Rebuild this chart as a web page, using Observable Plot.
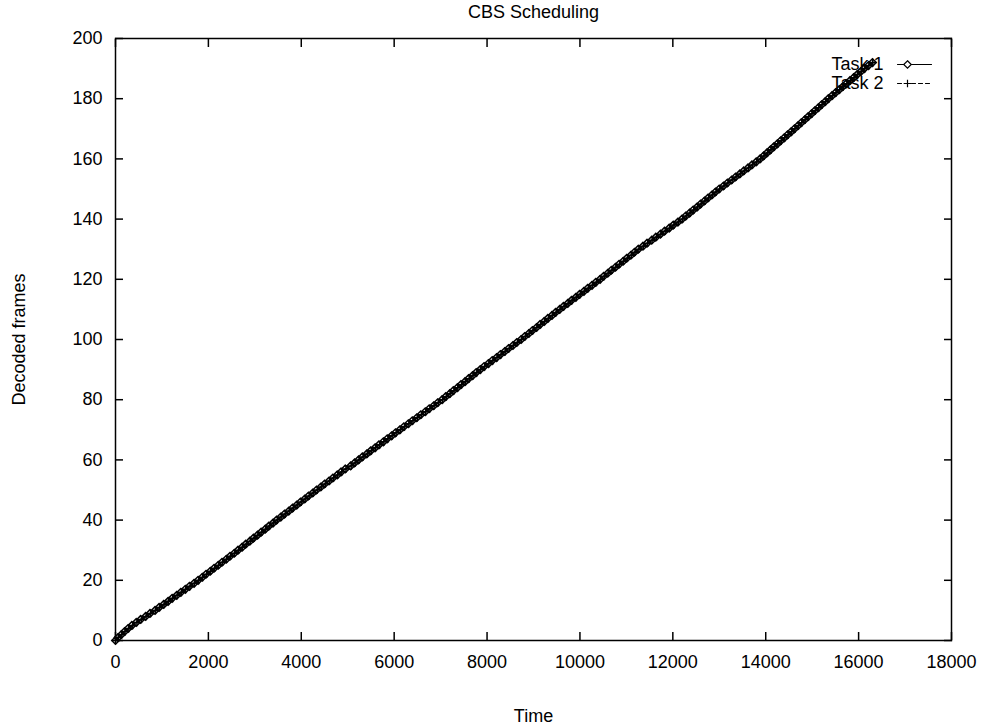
<!DOCTYPE html>
<html>
<head>
<meta charset="utf-8">
<script src="https://cdn.jsdelivr.net/npm/d3@7"></script>
<script src="https://cdn.jsdelivr.net/npm/@observablehq/plot@0.6"></script>
<style>
  body { margin: 0; background: #fff; }
  #chart svg { display: block; font-family: "Liberation Sans", Arial, sans-serif; }
</style>
</head>
<body>
<div id="chart"></div>
<script>
// Time at which each frame finished decoding (index = decoded frame count)
const task1Time = [
  0, 55, 128, 196, 270, 352, 447, 541, 648, 742,
  851, 938, 1037, 1133, 1219, 1318, 1406, 1503, 1592, 1691,
  1778, 1869, 1949, 2041, 2122, 2213, 2293, 2386, 2465, 2558,
  2638, 2727, 2803, 2893, 2969, 3058, 3135, 3224, 3301, 3391,
  3468, 3559, 3639, 3731, 3812, 3903, 3983, 4075, 4155, 4247,
  4328, 4421, 4502, 4597, 4680, 4775, 4857, 4948, 5063, 5147,
  5233, 5315, 5411, 5494, 5588, 5672, 5767, 5850, 5945, 6028,
  6122, 6208, 6305, 6390, 6487, 6572, 6669, 6754, 6851, 6936,
  7032, 7109, 7197, 7273, 7361, 7437, 7525, 7601, 7689, 7765,
  7853, 7935, 8029, 8111, 8205, 8287, 8381, 8463, 8557, 8639,
  8733, 8810, 8899, 8976, 9065, 9142, 9231, 9308, 9397, 9474,
  9563, 9644, 9737, 9818, 9911, 9992, 10085, 10166, 10259, 10340,
  10433, 10510, 10599, 10676, 10765, 10842, 10931, 11008, 11097, 11174,
  11257, 11357, 11445, 11545, 11633, 11733, 11821, 11921, 12009, 12109,
  12197, 12277, 12361, 12437, 12521, 12597, 12681, 12757, 12841, 12917,
  12998, 13090, 13174, 13266, 13350, 13442, 13526, 13618, 13702, 13794,
  13878, 13954, 14026, 14102, 14174, 14250, 14322, 14398, 14470, 14546,
  14618, 14694, 14764, 14840, 14910, 14986, 15056, 15132, 15202, 15278,
  15348, 15427, 15503, 15582, 15658, 15737, 15813, 15892, 15968, 16047,
  16123, 16212, 16298
];

const task2Time = [
  0, 62, 139, 205, 289, 371, 462, 558, 659, 757,
  860, 951, 1046, 1141, 1232, 1327, 1419, 1511, 1606, 1699,
  1792, 1877, 1963, 2048, 2136, 2220, 2307, 2394, 2478, 2566,
  2651, 2734, 2818, 2901, 2985, 3066, 3150, 3232, 3316, 3399,
  3483, 3567, 3654, 3740, 3827, 3912, 3998, 4084, 4170, 4256,
  4343, 4430, 4518, 4607, 4695, 4785, 4872, 4962, 5074, 5160,
  5244, 5330, 5421, 5509, 5598, 5687, 5778, 5865, 5956, 6042,
  6134, 6222, 6316, 6404, 6497, 6587, 6679, 6769, 6860, 6951,
  7043, 7124, 7206, 7289, 7370, 7453, 7534, 7617, 7698, 7781,
  7862, 7950, 8039, 8126, 8215, 8302, 8390, 8478, 8566, 8654,
  8742, 8825, 8908, 8991, 9074, 9157, 9241, 9323, 9406, 9489,
  9572, 9659, 9747, 9833, 9921, 10007, 10094, 10181, 10268, 10355,
  10442, 10524, 10608, 10690, 10774, 10856, 10940, 11022, 11106, 11188,
  11270, 11366, 11459, 11554, 11647, 11742, 11835, 11930, 12023, 12117,
  12210, 12290, 12371, 12450, 12531, 12610, 12691, 12770, 12851, 12930,
  13010, 13101, 13186, 13277, 13362, 13453, 13538, 13629, 13714, 13805,
  13889, 13965, 14038, 14113, 14186, 14261, 14334, 14409, 14482, 14557,
  14630, 14704, 14776, 14850, 14922, 14996, 15068, 15142, 15214, 15288,
  15360, 15438, 15514, 15593, 15669, 15748, 15824, 15903, 15979, 16058,
  16134, 16221, 16305
];

const seriesNames = ["Task 1", "Task 2"];
const xTicks = [0, 2000, 4000, 6000, 8000, 10000, 12000, 14000, 16000, 18000];
const yTicks = [0, 20, 40, 60, 80, 100, 120, 140, 160, 180, 200];

const task1 = task1Time.map((t, i) => ({time: t, frames: i}));
const task2 = task2Time.map((t, i) => ({time: t, frames: i}));

const ink = "#000";
const dash = "4,3";
const fs = 18;
const plain = (d) => String(d);

const chart = Plot.plot({
  width: 983,
  height: 728,
  marginLeft: 115,
  marginRight: 32,
  marginTop: 38,
  marginBottom: 88,
  style: {fontFamily: "'Liberation Sans', Arial, sans-serif", fontSize: fs + "px", color: ink, background: "#fff"},
  x: {domain: [0, 18000]},
  y: {domain: [0, 200]},
  marks: [
    // mirrored inward ticks on all four sides
    Plot.axisX(xTicks, {anchor: "bottom", tickSize: -8, text: null, label: null, strokeWidth: 1.5}),
    Plot.axisX(xTicks, {anchor: "top", tickSize: -8, text: null, label: null, strokeWidth: 1.5}),
    Plot.axisY(yTicks, {anchor: "left", tickSize: -8, text: null, label: null, strokeWidth: 1.5}),
    Plot.axisY(yTicks, {anchor: "right", tickSize: -8, text: null, label: null, strokeWidth: 1.5}),
    // tick labels
    Plot.axisX(xTicks, {anchor: "bottom", tickSize: 0, tickPadding: 15, label: null, fontSize: fs, tickFormat: plain}),
    Plot.axisY(yTicks, {anchor: "left", tickSize: 0, tickPadding: 13, label: null, fontSize: fs, tickFormat: plain}),
    Plot.frame({stroke: ink, strokeWidth: 1.5}),

    // series
    Plot.line(task1, {x: "time", y: "frames", stroke: ink, strokeWidth: 1.5}),
    Plot.dot(task1, {x: "time", y: "frames", symbol: "diamond2", r: 3.4, stroke: ink, strokeWidth: 1.5, fill: "none"}),
    Plot.line(task2, {x: "time", y: "frames", stroke: ink, strokeWidth: 1.5, strokeDasharray: dash}),
    Plot.dot(task2, {x: "time", y: "frames", symbol: "plus", r: 2.6, stroke: ink, strokeWidth: 1.5}),

    // legend (top right, inside the frame)
    Plot.text([seriesNames[0]], {frameAnchor: "top-right", dx: -68, dy: 26, textAnchor: "end", lineAnchor: "middle", fontSize: fs}),
    Plot.text([seriesNames[1]], {frameAnchor: "top-right", dx: -68, dy: 45, textAnchor: "end", lineAnchor: "middle", fontSize: fs}),
    Plot.vector([0], {frameAnchor: "top-right", dx: -54, dy: 26, rotate: 90, length: 34, anchor: "start", r: 0, stroke: ink, strokeWidth: 1.2}),
    Plot.vector([0], {frameAnchor: "top-right", dx: -54, dy: 45, rotate: 90, length: 34, anchor: "start", r: 0, stroke: ink, strokeWidth: 1.2, strokeDasharray: dash}),
    Plot.dot([0], {frameAnchor: "top-right", dx: -44, dy: 26, symbol: "diamond2", r: 3.4, stroke: ink, strokeWidth: 1.2, fill: "#fff"}),
    Plot.dot([0], {frameAnchor: "top-right", dx: -44, dy: 45, symbol: "plus", r: 2.6, stroke: ink, strokeWidth: 1.2}),

    // title and axis titles
    Plot.text(["CBS Scheduling"], {frameAnchor: "top", dy: -26, lineAnchor: "middle", fontSize: fs}),
    Plot.text(["Time"], {frameAnchor: "bottom", dy: 76, lineAnchor: "middle", fontSize: fs}),
    Plot.text(["Decoded frames"], {frameAnchor: "left", dx: -96, rotate: -90, textAnchor: "middle", lineAnchor: "middle", fontSize: fs})
  ]
});

document.getElementById("chart").append(chart);
</script>
</body>
</html>
